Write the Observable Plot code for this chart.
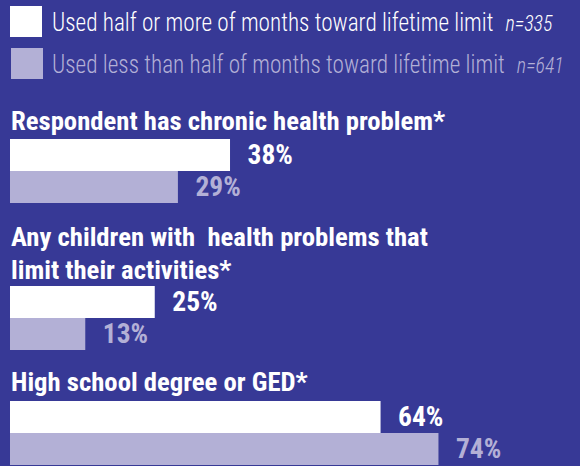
<!DOCTYPE html>
<html><head><meta charset="utf-8">
<script src="https://cdn.jsdelivr.net/npm/d3@7"></script>
<script src="https://cdn.jsdelivr.net/npm/@observablehq/plot@0.6"></script>
<style>
html,body{margin:0;padding:0;background:#373996;width:580px;height:466px;overflow:hidden;}
body{position:relative;font-family:"Roboto Condensed","Liberation Sans Narrow",Roboto,sans-serif;color:#fff;}
.sw{position:absolute;width:32px;height:31px;}
.leg{position:absolute;left:52px;font-size:25px;line-height:30px;font-weight:300;white-space:nowrap;transform:scaleX(0.928);transform-origin:0 50%;}
.leg i{font-size:21.5px;margin-left:13px;}
.head{position:absolute;left:11px;font-size:26.7px;line-height:33px;font-weight:bold;white-space:pre;}
svg{overflow:visible;}
</style></head>
<body>
<div id="root"></div>
<script>
const categories = ["Respondent has chronic health problem*", "Any children with  health problems that\nlimit their activities*", "High school degree or GED*"];
const seriesNames = ["Used half or more of months toward lifetime limit", "Used less than half of months toward lifetime limit"];
const seriesN = ["n=335", "n=641"];
const halfOrMore = [38, 25, 64];
const lessThanHalf = [29, 13, 74];
const colors = ["#ffffff", "#b3b0d6"];

const root = document.getElementById("root");
const legendTops = [6, 48];
const legendTextTops = [8, 50];
seriesNames.forEach((s, i) => {
  const sw = document.createElement("div");
  sw.className = "sw";
  sw.style.left = (i === 0 ? 10 : 11) + "px";
  sw.style.top = legendTops[i] + "px";
  sw.style.background = colors[i];
  root.appendChild(sw);
  const t = document.createElement("div");
  t.className = "leg";
  t.style.top = legendTextTops[i] + "px";
  t.style.color = colors[i];
  t.textContent = s;
  const n = document.createElement("i");
  n.textContent = seriesN[i];
  t.appendChild(n);
  root.appendChild(t);
});

const headTops = [105, 221, 366];
const barTops = [139, 286, 401];
categories.forEach((c, i) => {
  const h = document.createElement("div");
  h.className = "head";
  h.style.top = headTops[i] + "px";
  h.textContent = c;
  root.appendChild(h);
  const rows = [
    {series: seriesNames[0], value: halfOrMore[i]},
    {series: seriesNames[1], value: lessThanHalf[i]}
  ];
  const chart = Plot.plot({
    width: 580,
    height: 64,
    margin: 0,
    style: {background: "transparent", overflow: "visible"},
    x: {domain: [0, 100], range: [10, 589], axis: null},
    y: {domain: seriesNames, range: [0, 64], padding: 0, axis: null},
    color: {domain: seriesNames, range: colors},
    marks: [
      Plot.barX(rows, {x: "value", y: "series", fill: "series"}),
      Plot.text(rows, {x: "value", y: "series", text: d => d.value + "%", dx: 17, textAnchor: "start",
        fill: "series", fontSize: 27.5, fontWeight: "bold",
        fontFamily: "'Roboto Condensed','Liberation Sans Narrow',Roboto,sans-serif"})
    ]
  });
  chart.style.position = "absolute";
  chart.style.left = "0px";
  chart.style.top = barTops[i] + "px";
  root.appendChild(chart);
});
</script>
</body></html>
